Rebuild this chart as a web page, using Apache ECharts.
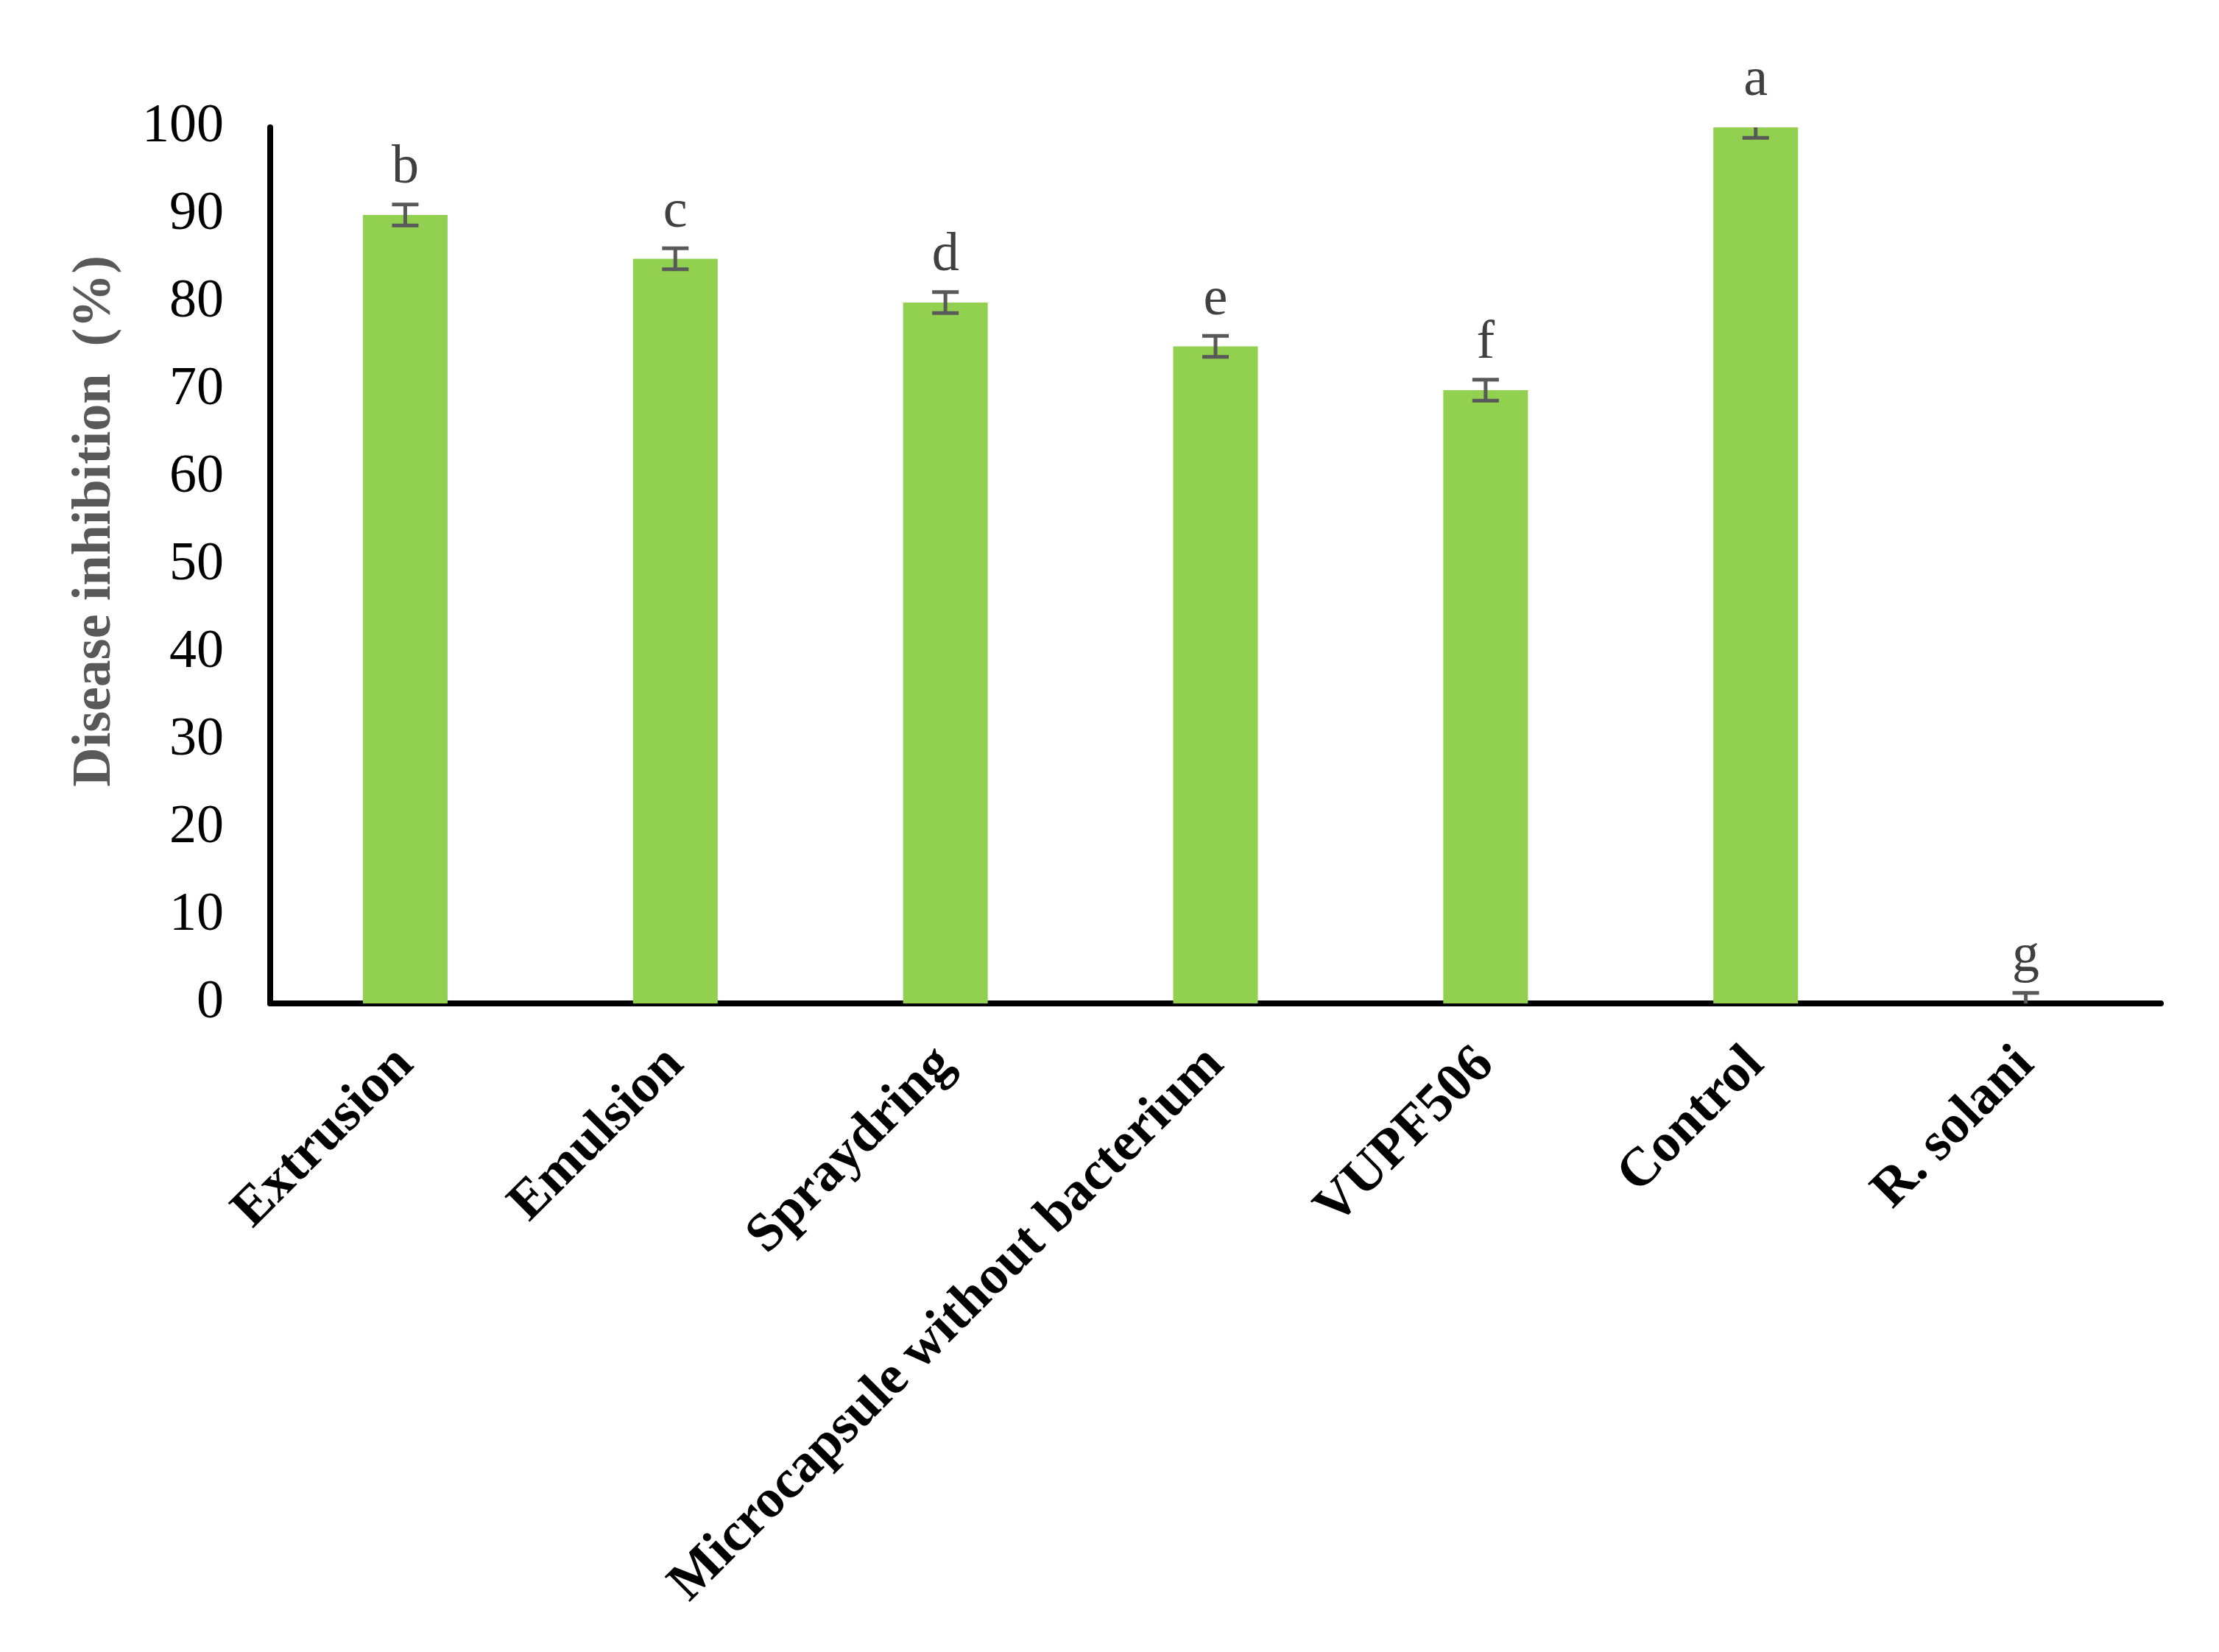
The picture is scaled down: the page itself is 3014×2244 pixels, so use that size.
<!DOCTYPE html>
<html>
<head>
<meta charset="utf-8">
<script src="https://cdn.jsdelivr.net/npm/echarts@6/dist/echarts.min.js"></script>
<style>
  html, body { margin: 0; padding: 0; background: #fff; }
  #main { width: 3014px; height: 2244px; }
</style>
</head>
<body>
<div id="main"></div>
<script>
// treatment groups and their values
var categories = ["Extrusion", "Emulsion", "Spraydring", "Microcapsule without bacterium", "VUPF506", "Control", "R. solani"];
var inhibition = [90, 85, 80, 75, 70, 100, 0];
var errors = [1.2, 1.2, 1.2, 1.2, 1.2, 1.2, 1.2];
var letters = ["b", "c", "d", "e", "f", "a", "g"];
var yTicks = [0, 10, 20, 30, 40, 50, 60, 70, 80, 90, 100];

var serif = "'Liberation Serif', 'Times New Roman', serif";

var chartDom = document.getElementById("main");
var myChart = echarts.init(chartDom);

var errData = inhibition.map(function (v, i) { return [i, v, errors[i], letters[i]]; });

var option = {
  backgroundColor: "#fff",
  animation: false,
  grid: {
    left: 367,
    right: 79,
    top: 173,
    bottom: 881,
    containLabel: false
  },
  xAxis: {
    type: "category",
    data: categories,
    axisLine: { show: true, lineStyle: { color: "#000", width: 8 } },
    axisTick: { show: false },
    axisLabel: {
      interval: 0,
      rotate: 45,
      margin: 72,
      color: "#000",
      fontFamily: serif,
      fontWeight: "bold",
      fontSize: 74
    }
  },
  yAxis: {
    type: "value",
    min: yTicks[0],
    max: yTicks[yTicks.length - 1],
    interval: 10,
    name: "Disease inhibition  (%)",
    nameLocation: "middle",
    nameRotate: 90,
    nameGap: 200,
    nameTextStyle: {
      color: "#595959",
      fontFamily: serif,
      fontWeight: "bold",
      fontSize: 74,
      padding: [0, 0, 0, 120]
    },
    axisLine: { show: true, lineStyle: { color: "#000", width: 8 } },
    axisTick: { show: false },
    splitLine: { show: false },
    axisLabel: {
      margin: 63,
      color: "#000",
      fontFamily: serif,
      fontSize: 74
    }
  },
  series: [
    {
      type: "bar",
      data: inhibition,
      barWidth: 115,
      itemStyle: { color: "#92D050" },
      z: 2
    },
    {
      // error bars, clipped to the plot area
      type: "custom",
      data: errData,
      clip: true,
      z: 3,
      renderItem: function (params, api) {
        var i = api.value(0), v = api.value(1), e = api.value(2);
        var hi = api.coord([i, v + e]);
        var lo = api.coord([i, v - e]);
        var hw = 18;
        var st = { stroke: "#595959", lineWidth: 5 };
        return {
          type: "group",
          children: [
            { type: "line", shape: { x1: hi[0], y1: hi[1], x2: lo[0], y2: lo[1] }, style: st },
            { type: "line", shape: { x1: hi[0] - hw, y1: hi[1], x2: hi[0] + hw, y2: hi[1] }, style: st },
            { type: "line", shape: { x1: lo[0] - hw, y1: lo[1], x2: lo[0] + hw, y2: lo[1] }, style: st }
          ]
        };
      }
    },
    {
      // significance letters
      type: "custom",
      data: errData,
      clip: false,
      z: 4,
      renderItem: function (params, api) {
        var i = api.value(0), v = api.value(1), e = api.value(2);
        var top = api.coord([i, v + e]);
        return {
          type: "text",
          style: {
            text: letters[params.dataIndex],
            x: top[0],
            y: top[1] - 12,
            align: "center",
            verticalAlign: "bottom",
            font: "74px " + serif,
            fill: "#404040"
          }
        };
      }
    }
  ]
};

option && myChart.setOption(option);
</script>
</body>
</html>
